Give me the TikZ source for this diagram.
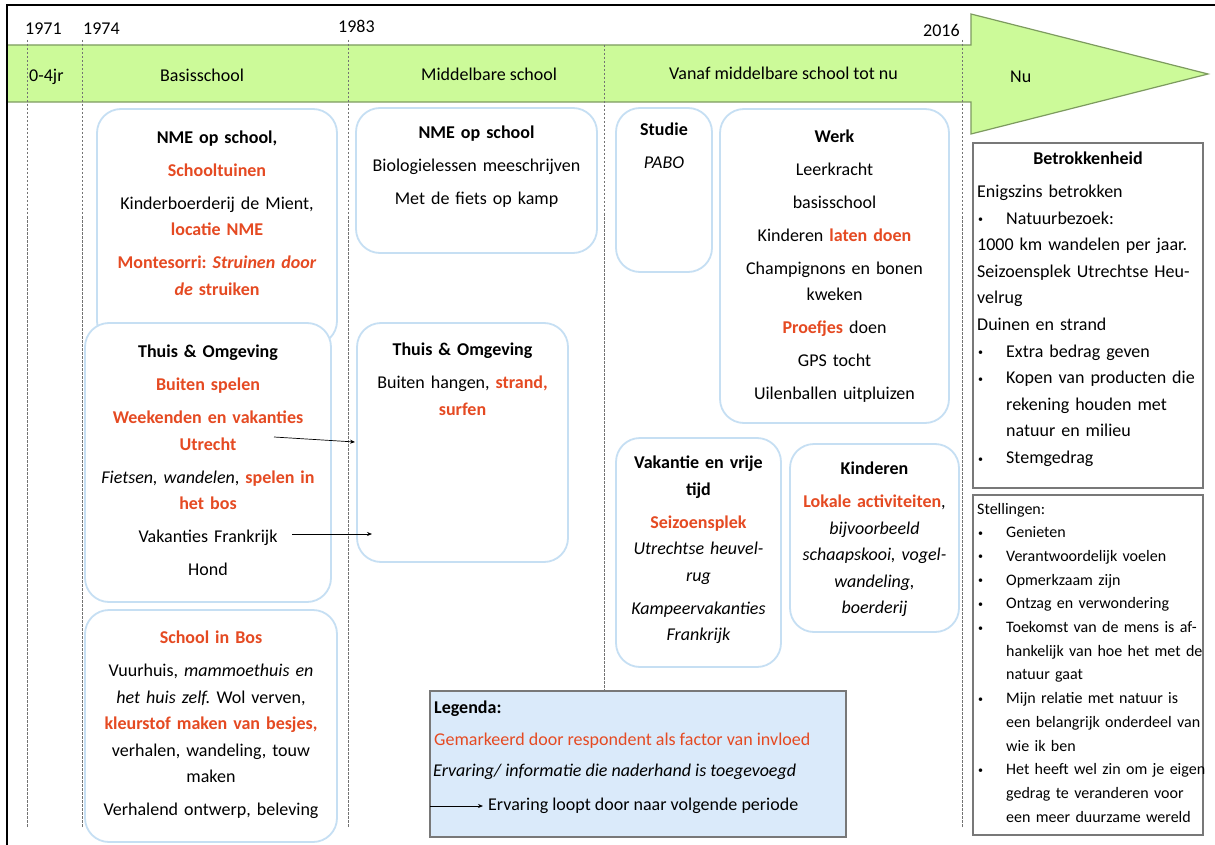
\documentclass[tikz,border=0pt]{standalone}
\usepackage{fontspec}
\setmainfont{Carlito}
\usetikzlibrary{arrows.meta,fit}
\definecolor{hlred}{RGB}{229,74,34}
\definecolor{bandfill}{RGB}{204,250,153}
\definecolor{banddraw}{RGB}{125,155,95}
\definecolor{boxblue}{RGB}{198,223,243}
\definecolor{legfill}{RGB}{218,234,250}
\definecolor{framegray}{RGB}{120,120,120}
\newcommand\hlt[1]{\textcolor{hlred}{\textbf{#1}}}
\newcommand\pgap{\\[6.5pt]}
\newcommand\smbul{{\fontsize{10}{10}\selectfont\raisebox{1.5pt}{•}}}
\newcommand\bulx{\makebox[29pt][l]{\hspace{1pt}\smbul}}
\newcommand\indx{\hspace*{29pt}}
\frenchspacing
\begin{document}
\begin{tikzpicture}[x=1pt,y=-1pt,
  rbox/.style={draw=boxblue, line width=1.8pt, fill=white, rounded corners=24pt, inner sep=0pt},
  sqbox/.style={draw=framegray, line width=1.2pt, fill=white, inner sep=0pt},
  btxt/.style={anchor=base, align=center, text width=300pt, inner sep=0pt, font=\fontsize{18}{26.5}\selectfont},
  ltxt/.style={anchor=base west, align=left, text width=240pt, inner sep=0pt, font=\fontsize{18}{26.6}\selectfont},
  stxt/.style={anchor=base west, align=left, text width=240pt, inner sep=0pt, font=\fontsize{16}{23.7}\selectfont},
  lbl/.style={anchor=base west, inner sep=0pt, font=\fontsize{18}{22}\selectfont},
  dline/.style={draw=black!55, line width=0.8pt, dash pattern=on 2.5pt off 1.5pt},
  conn/.style={-{Stealth[length=5pt,width=4pt]}, line width=0.7pt}]
\useasboundingbox (0,0) rectangle (1215,845);
\fill[white] (0,0) rectangle (1215,845);

% time band with arrow head
\draw[fill=bandfill, draw=banddraw, line width=1.2pt]
  (7,45) -- (971,45) -- (971,14) -- (1208,74) -- (971,134) -- (971,102) -- (7,102) -- cycle;

% period dividers
\foreach \x in {27,82,348,962} \draw[dline] (\x,40) -- (\x,828);
\draw[dline] (604,45) -- (604,828);

% years and periods
\node[lbl] (y1971) at (25,35) {1971};
\node[lbl] (y1974) at (83,35) {1974};
\node[lbl] (y1983) at (338,33) {1983};
\node[lbl] (y2016) at (923,37) {2016};
\node[lbl] (p0) at (29,82) {0-4jr};
\node[lbl] (p1) at (160,82) {Basisschool};
\node[lbl] (p2) at (421,81) {Middelbare school};
\node[lbl] (p3) at (669,80) {Vanaf middelbare school tot nu};
\node[lbl] (p4) at (1010,83) {Nu};

% Basisschool column
\node[rbox, fit={(97,109) (337,345)}] (nme1) {};
\node[btxt] (nme1t) at (217,143.5) {\textbf{NME op school,}\pgap
  \hlt{Schooltuinen}\pgap
  Kinderboerderij de Mient,\\
  \hlt{locatie NME}\pgap
  \hlt{Montesorri: \textit{Struinen door}}\\
  \hlt{\textit{de} struiken}};

\node[rbox, fit={(85,323) (331,602)}] (thuis1) {};
\node[btxt] (thuis1t) at (208,357.5) {\textbf{Thuis \& Omgeving}\pgap
  \hlt{Buiten spelen}\pgap
  \hlt{Weekenden en vakanties}\\
  \hlt{Utrecht}\pgap
  \textit{Fietsen, wandelen}, \hlt{spelen in}\\
  \hlt{het bos}\pgap
  Vakanties Frankrijk\pgap
  Hond};

\node[rbox, fit={(85,610) (337,842)}] (bos) {};
\node[btxt] (bost) at (211,643.5) {\hlt{School in Bos}\pgap
  Vuurhuis, \textit{mammoethuis en}\\
  \textit{het huis zelf.} Wol verven,\\
  \hlt{kleurstof maken van besjes,}\\
  verhalen, wandeling, touw\\
  maken\pgap
  Verhalend ontwerp, beleving};

% Middelbare school column
\node[rbox, fit={(356,108) (597,253)}] (nme2) {};
\node[btxt] (nme2t) at (476.5,138.5) {\textbf{NME op school}\pgap
  Biologielessen meeschrijven\pgap
  Met de fiets op kamp};

\node[rbox, fit={(357,323) (568,562)}] (thuis2) {};
\node[btxt] (thuis2t) at (462.5,355.5) {\textbf{Thuis \& Omgeving}\pgap
  Buiten hangen, \hlt{strand,}\\
  \hlt{surfen}};

% continuation arrows
\coordinate (a1s) at (274,437);
\coordinate (a1e) at (355,442);
\coordinate (a2s) at (292,534);
\coordinate (a2e) at (372,534);
\draw[conn] (a1s) -- (a1e);
\draw[conn] (a2s) -- (a2e);

% Vanaf middelbare school column
\node[rbox, fit={(616,108) (712,272)}] (studie) {};
\node[btxt] (studiet) at (664,135.5) {\textbf{Studie}\pgap
  \textit{PABO}};

\node[rbox, fit={(720,109) (949,423)}] (werk) {};
\node[btxt] (werkt) at (834.5,142.5) {\textbf{Werk}\pgap
  Leerkracht\pgap
  basisschool\pgap
  Kinderen \hlt{laten doen}\pgap
  Champignons en bonen\\
  kweken\pgap
  \hlt{Proefjes} doen\pgap
  GPS tocht\pgap
  Uilenballen uitpluizen};

\node[rbox, fit={(616,438) (781,667)}] (vak) {};
\node[btxt] (vakt) at (698.5,468.5) {\textbf{Vakantie en vrije}\\
  \textbf{tijd}\pgap
  \hlt{Seizoensplek}\\
  \textit{Utrechtse heuvel-}\\
  \textit{rug}\pgap
  \textit{Kampeervakanties}\\
  \textit{Frankrijk}};

\node[rbox, fit={(790,444) (959,632)}] (kind) {};
\node[btxt] (kindt) at (874.5,474.5) {\textbf{Kinderen}\pgap
  \hlt{Lokale activiteiten},\\
  \textit{bijvoorbeeld}\\
  \textit{schaapskooi, vogel-}\\
  \textit{wandeling,}\\
  \textit{boerderij}};

% Nu column
\node[sqbox, fit={(973,143) (1203,488)}] (betr) {};
\node[btxt] (betrh) at (1088,164.5) {\textbf{Betrokkenheid}};
\node[ltxt] (betrt) at (977,197.5) {Enigszins betrokken\\
  \bulx Natuurbezoek:\\
  1000 km wandelen per jaar.\\
  Seizoensplek Utrechtse Heu-\\
  velrug\\
  Duinen en strand\\
  \bulx Extra bedrag geven\\
  \bulx Kopen van producten die\\
  \indx rekening houden met\\
  \indx natuur en milieu\\
  \bulx Stemgedrag};

\node[sqbox, fit={(973,495) (1203,835)}] (stel) {};
\node[stxt] (stelt) at (977,514) {Stellingen:\\
  \bulx Genieten\\
  \bulx Verantwoordelijk voelen\\
  \bulx Opmerkzaam zijn\\
  \bulx Ontzag en verwondering\\
  \bulx Toekomst van de mens is af-\\
  \indx hankelijk van hoe het met de\\
  \indx natuur gaat\\
  \bulx Mijn relatie met natuur is\\
  \indx een belangrijk onderdeel van\\
  \indx wie ik ben\\
  \bulx Het heeft wel zin om je eigen\\
  \indx gedrag te veranderen voor\\
  \indx een meer duurzame wereld};

% legend
\node[draw=framegray, fill=legfill, line width=1.2pt, inner sep=0pt, fit={(430,691) (846,837)}] (leg) {};
\node[lbl] (leg1) at (434,713) {\textbf{Legenda:}};
\node[lbl, text=hlred] (leg2) at (434,745) {Gemarkeerd door respondent als factor van invloed};
\node[lbl] (leg3) at (433,776) {\textit{Ervaring/ informatie die naderhand is toegevoegd}};
\node[lbl] (leg4) at (488,810) {Ervaring loopt door naar volgende periode};
\coordinate (la) at (430,806);
\draw[conn, shorten >=5pt] (la) -- (la -| leg4.west);

% outer frame
\draw[line width=2pt] (7,845) -- (7,5) -- (1215,5);
\end{tikzpicture}
\end{document}
